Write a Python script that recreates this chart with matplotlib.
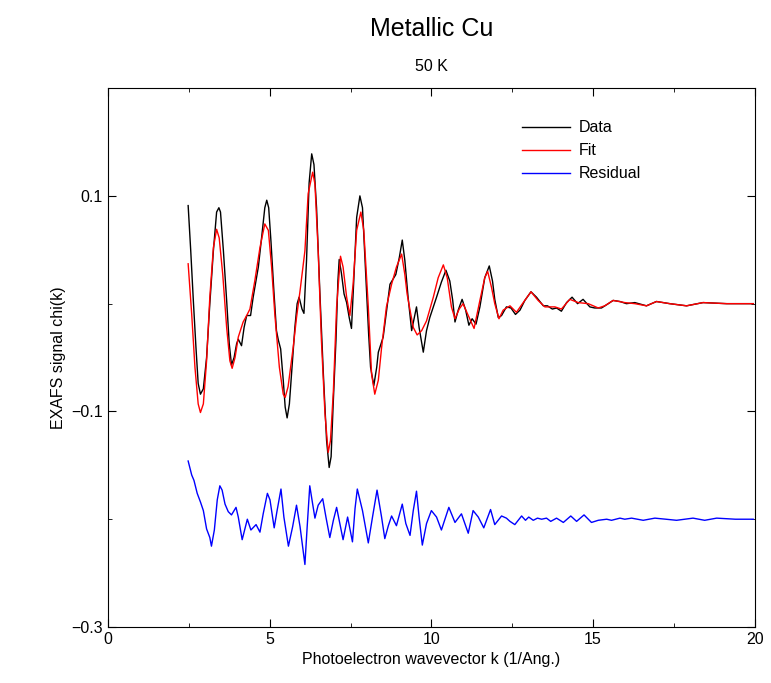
import numpy as np
import matplotlib.pyplot as plt
from matplotlib.ticker import FixedLocator, MultipleLocator

plt.rcParams['font.family'] = ['Liberation Sans', 'DejaVu Sans']

# values
data_k = [2.48, 2.56, 2.64, 2.72, 2.79, 2.86, 2.95, 3.05, 3.15, 3.26, 3.36, 3.43, 3.48,
          3.57, 3.67, 3.75, 3.82, 3.90, 3.98, 4.03, 4.13, 4.21, 4.29, 4.41, 4.49, 4.65,
          4.75, 4.85, 4.91, 4.97, 5.04, 5.13, 5.21, 5.27, 5.34, 5.42, 5.48, 5.54, 5.61,
          5.69, 5.78, 5.85, 5.91, 6.00, 6.06, 6.14, 6.22, 6.30, 6.37, 6.45, 6.55, 6.66,
          6.76, 6.84, 6.90, 6.96, 7.05, 7.11, 7.15, 7.22, 7.30, 7.38, 7.46, 7.53, 7.60,
          7.69, 7.79, 7.87, 7.98, 8.06, 8.12, 8.22, 8.31, 8.36, 8.51, 8.63, 8.72, 8.90,
          9.01, 9.10, 9.18, 9.28, 9.39, 9.47, 9.54, 9.62, 9.75, 9.85, 9.95, 10.16, 10.31,
          10.45, 10.57, 10.66, 10.73, 10.83, 10.95, 11.06, 11.16, 11.26, 11.38, 11.50,
          11.65, 11.79, 11.89, 11.96, 12.07, 12.17, 12.32, 12.46, 12.60, 12.74, 12.89,
          13.08, 13.25, 13.46, 13.59, 13.74, 13.87, 14.02, 14.18, 14.35, 14.52, 14.69,
          14.90, 15.05, 15.26, 15.47, 15.62, 15.83, 16.03, 16.29, 16.65, 16.96, 17.37,
          17.89, 18.40, 19.13, 19.95]
data_chi = [0.091, 0.049, 0.003, -0.040, -0.074, -0.084, -0.079, -0.050, 0.000, 0.049,
            0.085, 0.089, 0.085, 0.049, 0.003, -0.037, -0.057, -0.050, -0.037, -0.033,
            -0.039, -0.022, -0.011, -0.011, 0.006, 0.034, 0.061, 0.089, 0.096, 0.089,
            0.058, 0.012, -0.025, -0.034, -0.042, -0.071, -0.096, -0.106, -0.093, -0.059,
            -0.022, 0.000, 0.006, -0.005, -0.009, 0.040, 0.112, 0.139, 0.129, 0.089,
            0.012, -0.065, -0.127, -0.152, -0.142, -0.096, -0.034, 0.021, 0.041, 0.028,
            0.009, 0.001, -0.013, -0.023, 0.021, 0.080, 0.100, 0.089, 0.021, -0.028,
            -0.059, -0.076, -0.059, -0.045, -0.031, -0.003, 0.018, 0.027, 0.043, 0.059,
            0.040, 0.006, -0.025, -0.013, -0.003, -0.022, -0.045, -0.025, -0.013, 0.006,
            0.020, 0.031, 0.021, 0.003, -0.017, -0.006, 0.004, -0.006, -0.020, -0.014,
            -0.019, -0.003, 0.024, 0.035, 0.021, 0.004, -0.013, -0.011, -0.003, -0.004,
            -0.010, -0.006, 0.003, 0.011, 0.006, -0.002, -0.002, -0.005, -0.004, -0.007,
            0.001, 0.006, 0.000, 0.004, -0.003, -0.004, -0.004, 0.000, 0.003, 0.002,
            0.000, 0.001, -0.002, 0.002, 0.000, -0.002, 0.001, 0.000, 0.000]

fit_k = [2.48, 2.59, 2.69, 2.79, 2.86, 2.95, 3.05, 3.15, 3.26, 3.36, 3.44, 3.55, 3.67,
         3.77, 3.84, 3.93, 4.03, 4.18, 4.29, 4.39, 4.54, 4.70, 4.85, 4.96, 5.06, 5.16,
         5.30, 5.42, 5.48, 5.57, 5.73, 5.83, 5.94, 6.09, 6.19, 6.33, 6.40, 6.50, 6.60,
         6.71, 6.81, 6.88, 6.97, 7.07, 7.19, 7.27, 7.38, 7.48, 7.58, 7.69, 7.82, 7.91,
         8.05, 8.15, 8.25, 8.36, 8.46, 8.61, 8.77, 8.92, 9.08, 9.18, 9.25, 9.34, 9.44,
         9.56, 9.70, 9.85, 10.06, 10.21, 10.37, 10.49, 10.62, 10.73, 10.86, 10.98, 11.14,
         11.32, 11.50, 11.65, 11.74, 11.86, 11.96, 12.09, 12.22, 12.43, 12.63, 12.84,
         13.08, 13.30, 13.51, 13.82, 14.02, 14.28, 14.54, 14.85, 15.16, 15.36, 15.62,
         15.98, 16.29, 16.65, 16.96, 17.37, 17.89, 18.40, 19.13, 19.95]
fit_chi = [0.037, -0.010, -0.059, -0.093, -0.101, -0.093, -0.053, 0.006, 0.052, 0.069,
           0.061, 0.027, -0.022, -0.053, -0.060, -0.050, -0.031, -0.017, -0.011, -0.005,
           0.021, 0.052, 0.074, 0.068, 0.034, -0.010, -0.059, -0.084, -0.087, -0.077,
           -0.040, -0.013, 0.012, 0.049, 0.102, 0.122, 0.111, 0.049, -0.034, -0.102,
           -0.138, -0.127, -0.081, -0.003, 0.044, 0.034, 0.006, -0.011, 0.018, 0.068,
           0.085, 0.068, -0.003, -0.065, -0.084, -0.071, -0.041, -0.003, 0.018, 0.034,
           0.046, 0.027, 0.009, -0.006, -0.022, -0.029, -0.025, -0.016, 0.006, 0.024,
           0.036, 0.024, -0.003, -0.014, -0.005, 0.000, -0.011, -0.023, 0.003, 0.024,
           0.030, 0.015, 0.000, -0.014, -0.006, -0.002, -0.008, 0.001, 0.011, 0.003,
           -0.003, -0.003, -0.005, 0.004, 0.001, 0.000, -0.004, -0.002, 0.003, 0.001,
           0.000, -0.002, 0.002, 0.000, -0.002, 0.001, 0.000, 0.000]

res_k = [2.48, 2.59, 2.66, 2.76, 2.86, 2.95, 3.05, 3.15, 3.20, 3.29, 3.38, 3.46, 3.53,
         3.62, 3.72, 3.82, 3.96, 4.03, 4.15, 4.31, 4.42, 4.58, 4.70, 4.80, 4.93, 5.01,
         5.14, 5.23, 5.35, 5.44, 5.58, 5.71, 5.83, 5.94, 6.09, 6.16, 6.24, 6.33, 6.40,
         6.50, 6.64, 6.74, 6.86, 6.97, 7.07, 7.17, 7.27, 7.41, 7.56, 7.64, 7.71, 7.87,
         8.05, 8.18, 8.32, 8.46, 8.56, 8.67, 8.77, 8.92, 9.10, 9.21, 9.34, 9.44, 9.54,
         9.62, 9.72, 9.85, 10.00, 10.16, 10.31, 10.54, 10.73, 10.93, 11.14, 11.29, 11.45,
         11.62, 11.83, 11.96, 12.17, 12.32, 12.43, 12.58, 12.79, 12.91, 13.01, 13.15,
         13.28, 13.41, 13.56, 13.69, 13.87, 14.08, 14.31, 14.49, 14.72, 14.95, 15.16,
         15.42, 15.57, 15.83, 15.98, 16.19, 16.55, 16.91, 17.25, 17.58, 18.09, 18.45,
         18.82, 19.40, 19.95]
res_chi = [-0.146, -0.159, -0.164, -0.176, -0.184, -0.192, -0.209, -0.217, -0.225, -0.210,
           -0.182, -0.169, -0.173, -0.186, -0.193, -0.196, -0.189, -0.198, -0.219, -0.200,
           -0.210, -0.205, -0.212, -0.195, -0.176, -0.182, -0.208, -0.192, -0.172, -0.198,
           -0.225, -0.207, -0.187, -0.207, -0.242, -0.207, -0.169, -0.186, -0.199, -0.187,
           -0.181, -0.198, -0.217, -0.201, -0.189, -0.204, -0.219, -0.198, -0.221, -0.190,
           -0.172, -0.192, -0.222, -0.198, -0.173, -0.198, -0.218, -0.206, -0.197, -0.206,
           -0.186, -0.204, -0.215, -0.192, -0.174, -0.198, -0.224, -0.204, -0.192, -0.198,
           -0.210, -0.189, -0.203, -0.195, -0.213, -0.192, -0.198, -0.208, -0.191, -0.205,
           -0.197, -0.199, -0.202, -0.205, -0.197, -0.201, -0.198, -0.201, -0.199, -0.200,
           -0.199, -0.202, -0.199, -0.203, -0.197, -0.202, -0.196, -0.203, -0.201, -0.200,
           -0.201, -0.199, -0.200, -0.199, -0.201, -0.199, -0.200, -0.201, -0.199, -0.201,
           -0.199, -0.200, -0.200]


fig = plt.figure(figsize=(7.71, 6.83), dpi=100)
ax = fig.add_axes([0.140, 0.082, 0.839, 0.789])

ax.plot(data_k, data_chi, color='black', lw=1.0, label='Data')
ax.plot(fit_k, fit_chi, color='red', lw=1.0, label='Fit')
ax.plot(res_k, res_chi, color='blue', lw=1.0, label='Residual')

ax.set_xlim(0, 20)
ax.set_ylim(-0.3, 0.2)
ax.xaxis.set_major_locator(MultipleLocator(5))
ax.xaxis.set_minor_locator(MultipleLocator(2.5))
ax.yaxis.set_major_locator(FixedLocator([-0.3, -0.1, 0.1]))
ax.yaxis.set_minor_locator(FixedLocator([-0.2, 0.0, 0.2]))
ax.tick_params(which='both', direction='in', top=True, right=True, labelsize=11.5)
ax.tick_params(which='major', length=6)
ax.tick_params(which='minor', length=3)

ax.set_xlabel('Photoelectron wavevector k (1/Ang.)', fontsize=11.5)
ax.set_ylabel('EXAFS signal chi(k)', fontsize=11.5)

fig.text(0.560, 0.958, 'Metallic Cu', ha='center', va='center', fontsize=18)
fig.text(0.560, 0.903, '50 K', ha='center', va='center', fontsize=11.5)

ax.legend(loc='upper left', bbox_to_anchor=(0.658, 0.845), bbox_transform=fig.transFigure,
          frameon=False, fontsize=11.5, handlelength=3.0, handletextpad=0.6,
          labelspacing=0.5)

fig.savefig('out.png', dpi=100)
